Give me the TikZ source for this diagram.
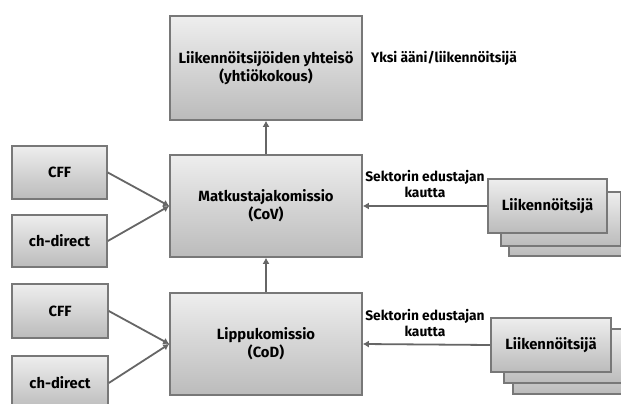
\documentclass[tikz,border=0pt]{standalone}
\usepackage{fontspec}
\setmainfont{Fira Sans}
\usetikzlibrary{arrows.meta,shadows}
\definecolor{boxline}{HTML}{787878}
\definecolor{arrowc}{HTML}{666666}
\definecolor{gtop}{HTML}{EEEEEE}
\definecolor{gbot}{HTML}{BBBBBB}
\tikzset{
  gbox/.style={draw=boxline, line width=1.6pt, top color=gtop, bottom color=gbot,
    drop shadow={shadow xshift=1pt, shadow yshift=-1.2pt, opacity=0.25},
    align=center, font=\bfseries\fontsize{14.8}{18}\selectfont, inner sep=2pt},
  conn/.style={draw=arrowc, line width=1.8pt, -{Latex[length=6pt,width=7pt]}},
  lbl/.style={font=\bfseries\fontsize{13.8}{16.5}\selectfont, align=center, inner sep=0pt}
}
\begin{document}
\begin{tikzpicture}[x=1pt,y=-1pt]
\clip (0,0) rectangle (621,404);
\fill[white] (0,0) rectangle (621,404);
% main boxes
\node[gbox, minimum width=192pt, minimum height=104pt] (top) at (266,68) {Liikennöitsijöiden yhteisö\\(yhtiökokous)};
\node[gbox, minimum width=192pt, minimum height=102pt] (cov) at (266,206) {Matkustajakomissio\\(CoV)};
\node[gbox, minimum width=192pt, minimum height=102pt] (cod) at (266,344) {Lippukomissio\\(CoD)};
% left boxes
\node[gbox, minimum width=95pt, minimum height=53pt] (cff1) at (59.5,172.5) {CFF};
\node[gbox, minimum width=95pt, minimum height=52pt] (chd1) at (59.5,241) {ch-direct};
\node[gbox, minimum width=96pt, minimum height=54pt] (cff2) at (60,311) {CFF};
\node[gbox, minimum width=96pt, minimum height=54pt] (chd2) at (60,383) {ch-direct};
% operator stacks (upper)
\node[gbox, minimum width=122pt, minimum height=54pt] (op1c) at (570,229) {};
\node[gbox, minimum width=120pt, minimum height=54pt] (op1b) at (561,219) {};
\node[gbox, minimum width=119pt, minimum height=54pt] (op1) at (547.5,206) {Liikennöitsijä};
% operator stacks (lower)
\node[gbox, minimum width=122pt, minimum height=54pt] (op2c) at (574,367) {};
\node[gbox, minimum width=120pt, minimum height=54pt] (op2b) at (564,356) {};
\node[gbox, minimum width=120pt, minimum height=54pt] (op2) at (551,345) {Liikennöitsijä};
% labels
\node[lbl, anchor=west] (yksi) at (371,58) {Yksi ääni/liikennöitsijä};
\node[lbl] (sek1) at (425,184) {Sektorin edustajan\\kautta};
\node[lbl] (sek2) at (425,323) {Sektorin edustajan\\kautta};
% connectors
\draw[conn] (cov.north) -- (top.south);
\draw[conn] (cod.north) -- (cov.south);
\draw[conn] (cff1.east) -- (cov.west);
\draw[conn] (chd1.east) -- (cov.west);
\draw[conn] (cff2.east) -- (cod.west);
\draw[conn] (chd2.east) -- (cod.west);
\draw[conn] (op1.west) -- (cov.east);
\draw[conn] (op2.west) -- (cod.east);
\end{tikzpicture}
\end{document}
